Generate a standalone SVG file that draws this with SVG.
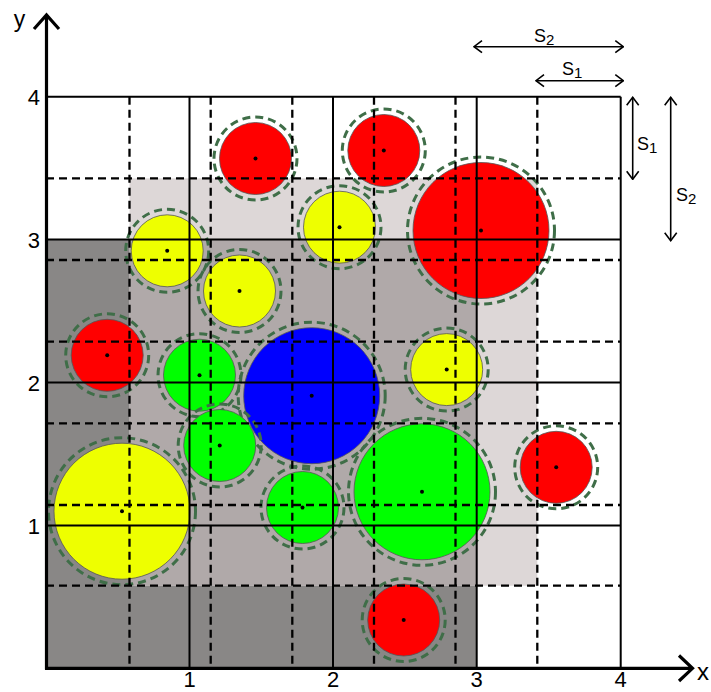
<svg xmlns="http://www.w3.org/2000/svg" width="711" height="692" viewBox="0 0 711 692">
<defs>
<marker id="chev" viewBox="0 0 10 14" refX="9" refY="7" markerWidth="10" markerHeight="14" markerUnits="userSpaceOnUse" orient="auto-start-reverse">
<polyline points="1,1 9,7 1,13" fill="none" stroke="#000" stroke-width="1.6"/>
</marker>
</defs>
<style>
.c{stroke:#555;stroke-width:0.8}
.ring{fill:none;stroke:#3f6e48;stroke-width:3;stroke-dasharray:8,5}
.dot{fill:#000}
.sol{stroke:#000;stroke-width:2;fill:none}
.dash{stroke:#000;stroke-width:2.3;stroke-dasharray:8,5;fill:none}
.ax{stroke:#000;stroke-width:3.2;fill:none}
.dim{stroke:#000;stroke-width:1.6;fill:none;marker-start:url(#chev);marker-end:url(#chev)}
text{font-family:"Liberation Sans",Arial,sans-serif;fill:#000}
.num{font-size:22px}
.s{font-size:18px}
.sub{font-size:15px}
</style>
<rect width="711" height="692" fill="#fff"/>
<g id="regions">
<rect x="46" y="239.6" width="430.7" height="428.4" fill="#898786"/>
<rect x="129.5" y="178.4" width="407.8" height="407.3" fill="#ddd7d7"/>
<rect x="129.5" y="239.6" width="347.2" height="346.1" fill="#b0a9a9"/>
</g>
<g id="circles">
<g id="n1"><circle class="c" cx="255.5" cy="158.5" r="36" fill="#ff0000"/><circle class="ring" cx="255.5" cy="158.5" r="41.5"/></g>
<g id="n2"><circle class="c" cx="383.8" cy="150.5" r="36" fill="#ff0000"/><circle class="ring" cx="383.8" cy="150.5" r="41.5"/></g>
<g id="n3"><circle class="c" cx="481" cy="230.5" r="68" fill="#ff0000"/><circle class="ring" cx="481" cy="230.5" r="73.5"/></g>
<g id="n4"><circle class="c" cx="339.5" cy="227.2" r="36" fill="#eeff00"/><circle class="ring" cx="339.5" cy="227.2" r="41.5"/></g>
<g id="n5"><circle class="c" cx="167.2" cy="250.8" r="36" fill="#eeff00"/><circle class="ring" cx="167.2" cy="250.8" r="41.5"/></g>
<g id="n6"><circle class="c" cx="239.5" cy="291" r="36" fill="#eeff00"/><circle class="ring" cx="239.5" cy="291" r="41.5"/></g>
<g id="n7"><circle class="c" cx="107.2" cy="355.3" r="36" fill="#ff0000"/><circle class="ring" cx="107.2" cy="355.3" r="41.5"/></g>
<g id="n8"><circle class="c" cx="199.5" cy="375.2" r="36" fill="#00ff00"/><circle class="ring" cx="199.5" cy="375.2" r="41.5"/></g>
<g id="n9"><circle class="c" cx="311.7" cy="395.7" r="68" fill="#0000ff"/><circle class="ring" cx="311.7" cy="395.7" r="73.5"/></g>
<g id="n10"><circle class="c" cx="446.7" cy="369.6" r="36" fill="#eeff00"/><circle class="ring" cx="446.7" cy="369.6" r="41.5"/></g>
<g id="n11"><circle class="c" cx="219.7" cy="445.5" r="36" fill="#00ff00"/><circle class="ring" cx="219.7" cy="445.5" r="41.5"/></g>
<g id="n12"><circle class="c" cx="302.5" cy="507.5" r="36" fill="#00ff00"/><circle class="ring" cx="302.5" cy="507.5" r="41.5"/></g>
<g id="n13"><circle class="c" cx="422" cy="491.8" r="68" fill="#00ff00"/><circle class="ring" cx="422" cy="491.8" r="73.5"/></g>
<g id="n14"><circle class="c" cx="122" cy="511.2" r="68" fill="#eeff00"/><circle class="ring" cx="122" cy="511.2" r="73.5"/></g>
<g id="n15"><circle class="c" cx="556.2" cy="467.3" r="36" fill="#ff0000"/><circle class="ring" cx="556.2" cy="467.3" r="41.5"/></g>
<g id="n16"><circle class="c" cx="403.7" cy="620" r="36" fill="#ff0000"/><circle class="ring" cx="403.7" cy="620" r="41.5"/></g>
</g>
<g id="grid">
<path class="dash" d="M129.5,96.7V668M210.7,96.7V668M292.3,96.7V668M374,96.7V668M455.5,96.7V668M537.3,96.7V668"/>
<path class="dash" d="M46,178.4H620.7M46,260H620.7M46,341.7H620.7M46,423.3H620.7M46,505H620.7M46,585.7H620.7"/>
<path class="sol" d="M189.5,96.7V668M333,96.7V668M476.7,96.7V668M620.7,96.7V668"/>
<path class="sol" d="M46,96.7H620.7M46,239.6H620.7M46,382.5H620.7M46,525.5H620.7"/>
</g>
<g id="dots">
<circle class="dot" cx="255.5" cy="158.5" r="2"/>
<circle class="dot" cx="383.8" cy="150.5" r="2"/>
<circle class="dot" cx="481" cy="230.5" r="2"/>
<circle class="dot" cx="339.5" cy="227.2" r="2"/>
<circle class="dot" cx="167.2" cy="250.8" r="2"/>
<circle class="dot" cx="239.5" cy="291" r="2"/>
<circle class="dot" cx="107.2" cy="355.3" r="2"/>
<circle class="dot" cx="199.5" cy="375.2" r="2"/>
<circle class="dot" cx="311.7" cy="395.7" r="2"/>
<circle class="dot" cx="446.7" cy="369.6" r="2"/>
<circle class="dot" cx="219.7" cy="445.5" r="2"/>
<circle class="dot" cx="302.5" cy="507.5" r="2"/>
<circle class="dot" cx="422" cy="491.8" r="2"/>
<circle class="dot" cx="122" cy="511.2" r="2"/>
<circle class="dot" cx="556.2" cy="467.3" r="2"/>
<circle class="dot" cx="403.7" cy="620" r="2"/>
</g>
<g id="axes">
<path class="ax" d="M46.5,669.5V15M34,29L46.5,15L59,29"/>
<path class="ax" d="M45,668.3H692M679,655.5L692.5,668.3L679,681"/>
<text x="19.5" y="27" font-size="23" text-anchor="middle">y</text>
<text x="697" y="680" font-size="24">x</text>
<text class="num" x="189.5" y="687" text-anchor="middle">1</text>
<text class="num" x="333" y="687" text-anchor="middle">2</text>
<text class="num" x="476.7" y="687" text-anchor="middle">3</text>
<text class="num" x="620.7" y="687" text-anchor="middle">4</text>
<text class="num" x="40" y="533.5" text-anchor="end">1</text>
<text class="num" x="40" y="390.5" text-anchor="end">2</text>
<text class="num" x="40" y="247.5" text-anchor="end">3</text>
<text class="num" x="40" y="104.5" text-anchor="end">4</text>
</g>
<g id="dimensions">
<line class="dim" x1="474" y1="46.7" x2="623.3" y2="46.7"/>
<line class="dim" x1="536" y1="80.7" x2="623.3" y2="80.7"/>
<line class="dim" x1="632.7" y1="97.3" x2="632.7" y2="179.3"/>
<line class="dim" x1="670.7" y1="97.3" x2="670.7" y2="240.7"/>
<text class="s" x="534" y="42">S<tspan class="sub" dy="3">2</tspan></text>
<text class="s" x="562" y="75">S<tspan class="sub" dy="3">1</tspan></text>
<text class="s" x="637" y="150">S<tspan class="sub" dy="3">1</tspan></text>
<text class="s" x="676" y="201">S<tspan class="sub" dy="3">2</tspan></text>
</g>
</svg>
